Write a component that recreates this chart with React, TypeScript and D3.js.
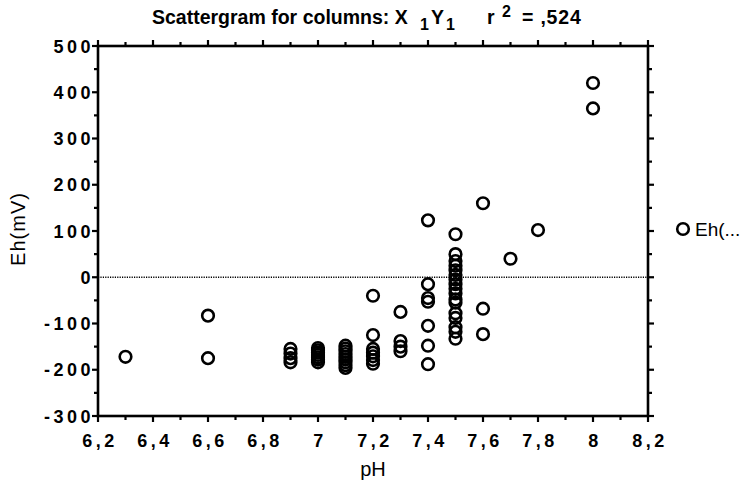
import React from "react";
import * as d3 from "d3";

// pH of each sample
const phValues: number[] = [
  6.3,
  6.6, 6.6,
  6.9, 6.9, 6.9, 6.9,
  7.0, 7.0, 7.0, 7.0, 7.0, 7.0, 7.0,
  7.1, 7.1, 7.1, 7.1, 7.1, 7.1, 7.1, 7.1, 7.1,
  7.2, 7.2, 7.2, 7.2, 7.2, 7.2, 7.2,
  7.3, 7.3, 7.3, 7.3,
  7.4, 7.4, 7.4, 7.4, 7.4, 7.4, 7.4,
  7.5, 7.5, 7.5, 7.5, 7.5, 7.5, 7.5, 7.5, 7.5, 7.5, 7.5, 7.5, 7.5, 7.5, 7.5, 7.5, 7.5,
  7.6, 7.6, 7.6,
  7.7,
  7.8,
  8.0, 8.0,
];

// Redox potential Eh (mV) of each sample
const ehValues: number[] = [
  -172,
  -83, -175,
  -155, -165, -175, -184,
  -153, -158, -163, -168, -173, -178, -184,
  -148, -154, -160, -166, -172, -178, -184, -190, -196,
  -40, -125, -155, -163, -171, -179, -187,
  -75, -138, -150, -160,
  123, -15, -45, -53, -105, -148, -188,
  93, 50, 35, 25, 15, 5, -5, -15, -25, -35, -48, -55, -78, -88, -108, -118, -133,
  160, -68, -123,
  40,
  102,
  420, 365,
];

const xTickLabels: string[] = ["6,2", "6,4", "6,6", "6,8", "7", "7,2", "7,4", "7,6", "7,8", "8", "8,2"];
const yTickLabels: string[] = ["-300", "-200", "-100", "0", "100", "200", "300", "400", "500"];

const xDomain: [number, number] = [6.2, 8.2];
const yDomain: [number, number] = [-300, 500];

export default function App() {
  const W = 755;
  const H = 485;
  const left = 98;
  const right = 648;
  const top = 46;
  const bottom = 416;

  const x = d3.scaleLinear().domain(xDomain).range([left, right]);
  const y = d3.scaleLinear().domain(yDomain).range([bottom, top]);

  const xMinor = d3.range(0, 21).map((i) => 6.2 + i * 0.1);
  const yMinor = d3.range(0, 17).map((i) => -300 + i * 50);
  const xMajor = xTickLabels.map((_, i) => 6.2 + i * 0.2);
  const yMajor = yTickLabels.map((_, i) => -300 + i * 100);

  const sans = "Liberation Sans, Arial, sans-serif";

  const tickFont = {
    fontFamily: sans,
    fontWeight: 700,
    fontSize: 18,
    letterSpacing: 3.5,
  } as const;

  const titleFont = {
    fontFamily: sans,
    fontWeight: 700,
    fontSize: 19.5,
  } as const;

  return (
    <svg
      width={W}
      height={H}
      style={{ position: "absolute", left: 0, top: 0, background: "#fff" }}
    >
      <rect x={0} y={0} width={W} height={H} fill="#fff" />

      {/* title */}
      <g fill="#000" {...titleFont}>
        <text x={152} y={24}>Scattergram for columns: X</text>
        <text x={420} y={30} fontSize={16}>1</text>
        <text x={431} y={24}>Y</text>
        <text x={446} y={30} fontSize={16}>1</text>
        <text x={487} y={24}>r</text>
        <text x={502} y={17} fontSize={16}>2</text>
        <text x={522} y={24} letterSpacing={0.8}>= ,524</text>
      </g>

      {/* zero reference line */}
      <line
        x1={left}
        x2={right}
        y1={y(0)}
        y2={y(0)}
        stroke="#000"
        strokeWidth={1.5}
        strokeDasharray="1.2,1.2"
      />

      {/* tick marks */}
      <g stroke="#000" strokeWidth={2.2}>
        {xMinor.map((v, i) => (
          <g key={"xt" + i}>
            <line x1={x(v)} x2={x(v)} y1={bottom} y2={bottom + (i % 2 === 0 ? 6 : 4)} />
            <line x1={x(v)} x2={x(v)} y1={top} y2={top - (i % 2 === 0 ? 6 : 4)} />
          </g>
        ))}
        {yMinor.map((v, i) => (
          <g key={"yt" + i}>
            <line x1={left} x2={left - (i % 2 === 0 ? 6 : 4)} y1={y(v)} y2={y(v)} />
            <line x1={right} x2={right + (i % 2 === 0 ? 6 : 4)} y1={y(v)} y2={y(v)} />
          </g>
        ))}
      </g>

      {/* frame */}
      <rect
        x={left}
        y={top}
        width={right - left}
        height={bottom - top}
        fill="none"
        stroke="#000"
        strokeWidth={2.6}
      />

      {/* x tick labels */}
      <g {...tickFont} fill="#000" textAnchor="middle">
        {xMajor.map((v, i) => (
          <text key={"xl" + i} x={x(v) + 2} y={447}>
            {xTickLabels[i]}
          </text>
        ))}
      </g>

      {/* y tick labels */}
      <g {...tickFont} fill="#000" textAnchor="end">
        {yMajor.map((v, i) => (
          <text key={"yl" + i} x={left - 4} y={y(v) + 6.5}>
            {yTickLabels[i]}
          </text>
        ))}
      </g>

      {/* axis titles */}
      <text
        x={(left + right) / 2}
        y={476}
        textAnchor="middle"
        fontFamily={sans}
        fontSize={20}
        fill="#000"
      >
        pH
      </text>
      <text
        transform={`translate(25, ${(top + bottom) / 2 - 2}) rotate(-90)`}
        textAnchor="middle"
        fontFamily={sans}
        fontSize={20}
        letterSpacing={1}
        fill="#000"
      >
        Eh(mV)
      </text>

      {/* points */}
      <g fill="none" stroke="#000" strokeWidth={2.6}>
        {phValues.map((p, i) => (
          <circle key={"pt" + i} cx={x(p)} cy={y(ehValues[i])} r={5.8} />
        ))}
      </g>

      {/* legend */}
      <circle cx={683} cy={229} r={5.8} fill="none" stroke="#000" strokeWidth={2.6} />
      <text x={695} y={236} fontFamily={sans} fontSize={19} fill="#000">
        Eh(...
      </text>
    </svg>
  );
}
